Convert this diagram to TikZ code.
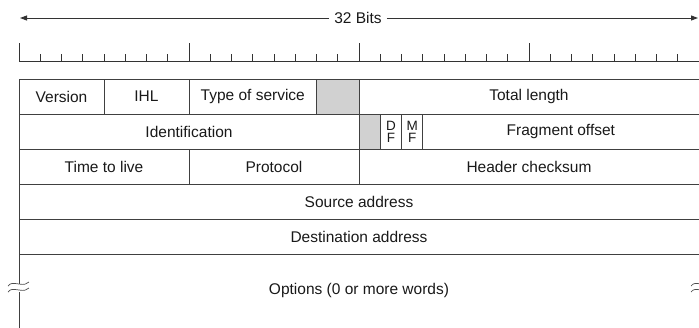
\documentclass[tikz,border=0pt]{standalone}
\usepackage{fontspec}
\setmainfont{Liberation Sans}
\usetikzlibrary{arrows.meta}
\tikzset{
  frame/.style={draw=black!75, line width=0.9pt},
  field/.style={frame, rectangle, inner sep=0pt, minimum height=35pt, font=\fontsize{15.5}{17}\selectfont, text=black!90},
  greyfield/.style={field, fill=black!18},
  flag/.style={field, font=\fontsize{13.5}{12}\selectfont, align=center},
  tick/.style={draw=black!80, line width=0.9pt},
  breakmark/.style={draw=black!70, line width=0.7pt},
  lbl/.style={font=\fontsize{15.5}{17}\selectfont, text=black!90, inner sep=0pt},
}
% \fieldbox{name}{style}{from bit}{to bit}{row}{text}
\newcommand{\fieldbox}[6]{%
  \node[#2, minimum width={(#4-#3)*21.25pt}] (#1) at ({19+(#3+#4)/2*21.25},{79+#5*35+17.5}) {#6};}
\begin{document}
\begin{tikzpicture}[x=1pt, y=-1pt]
\useasboundingbox (0,0) rectangle (699,327);

% 32 bits arrow
\node[lbl, fill=white, inner xsep=5pt] (bits) at (358,18) {32 Bits};
\coordinate (lend) at (20,18);
\coordinate (rend) at (698,18);
\draw[black!80, line width=0.9pt, -{Triangle[length=7pt,width=5pt]}] (bits.west) -- (lend);
\draw[black!80, line width=0.9pt, -{Triangle[length=7pt,width=5pt]}] (bits.east) -- (rend);

% ruler
\draw[tick] (19,61) -- (701,61);
\foreach \b in {0,...,32}{
  \pgfmathtruncatemacro{\m}{mod(\b,8)}
  \ifnum\m=0
    \draw[tick] ({19+\b*21.25},61) -- ({19+\b*21.25},43);
  \else
    \draw[tick] ({19+\b*21.25},61) -- ({19+\b*21.25},54);
  \fi
}

% row 0
\fieldbox{ver}{field}{0}{4}{0}{Version}
\fieldbox{ihl}{field}{4}{8}{0}{IHL}
\fieldbox{tos}{field}{8}{14}{0}{Type of service}
\fieldbox{unused}{greyfield}{14}{16}{0}{}
\fieldbox{tlen}{field}{16}{32}{0}{Total length}
% row 1
\fieldbox{ident}{field}{0}{16}{1}{Identification}
\fieldbox{rsv}{greyfield}{16}{17}{1}{}
\fieldbox{df}{flag}{17}{18}{1}{D\\F}
\fieldbox{mf}{flag}{18}{19}{1}{M\\F}
\fieldbox{frag}{field}{19}{32}{1}{Fragment offset}
% row 2
\fieldbox{ttl}{field}{0}{8}{2}{Time to live}
\fieldbox{proto}{field}{8}{16}{2}{Protocol}
\fieldbox{csum}{field}{16}{32}{2}{Header checksum}
% rows 3,4
\fieldbox{src}{field}{0}{32}{3}{Source address}
\fieldbox{dst}{field}{0}{32}{4}{Destination address}

% options row (open at the bottom, with break marks)
\node[lbl] (opt) at (359,290) {Options (0 or more words)};
\draw[frame] (19,254) -- (19,284);
\draw[frame] (19,292) -- (19,330);
\draw[frame] (701,254) -- (701,284);
\draw[frame] (701,292) -- (701,330);
\draw[breakmark] (8,286) .. controls (10,283) and (13,283) .. (19,284) .. controls (24,285) and (27,284) .. (29,282);
\draw[breakmark] (8,292) .. controls (10,289) and (13,289) .. (19,290) .. controls (24,291) and (27,290) .. (29,288);
\draw[breakmark] (691,286) .. controls (693,283) and (696,283) .. (701,284);
\draw[breakmark] (691,292) .. controls (693,289) and (696,289) .. (701,290);
\end{tikzpicture}
\end{document}
